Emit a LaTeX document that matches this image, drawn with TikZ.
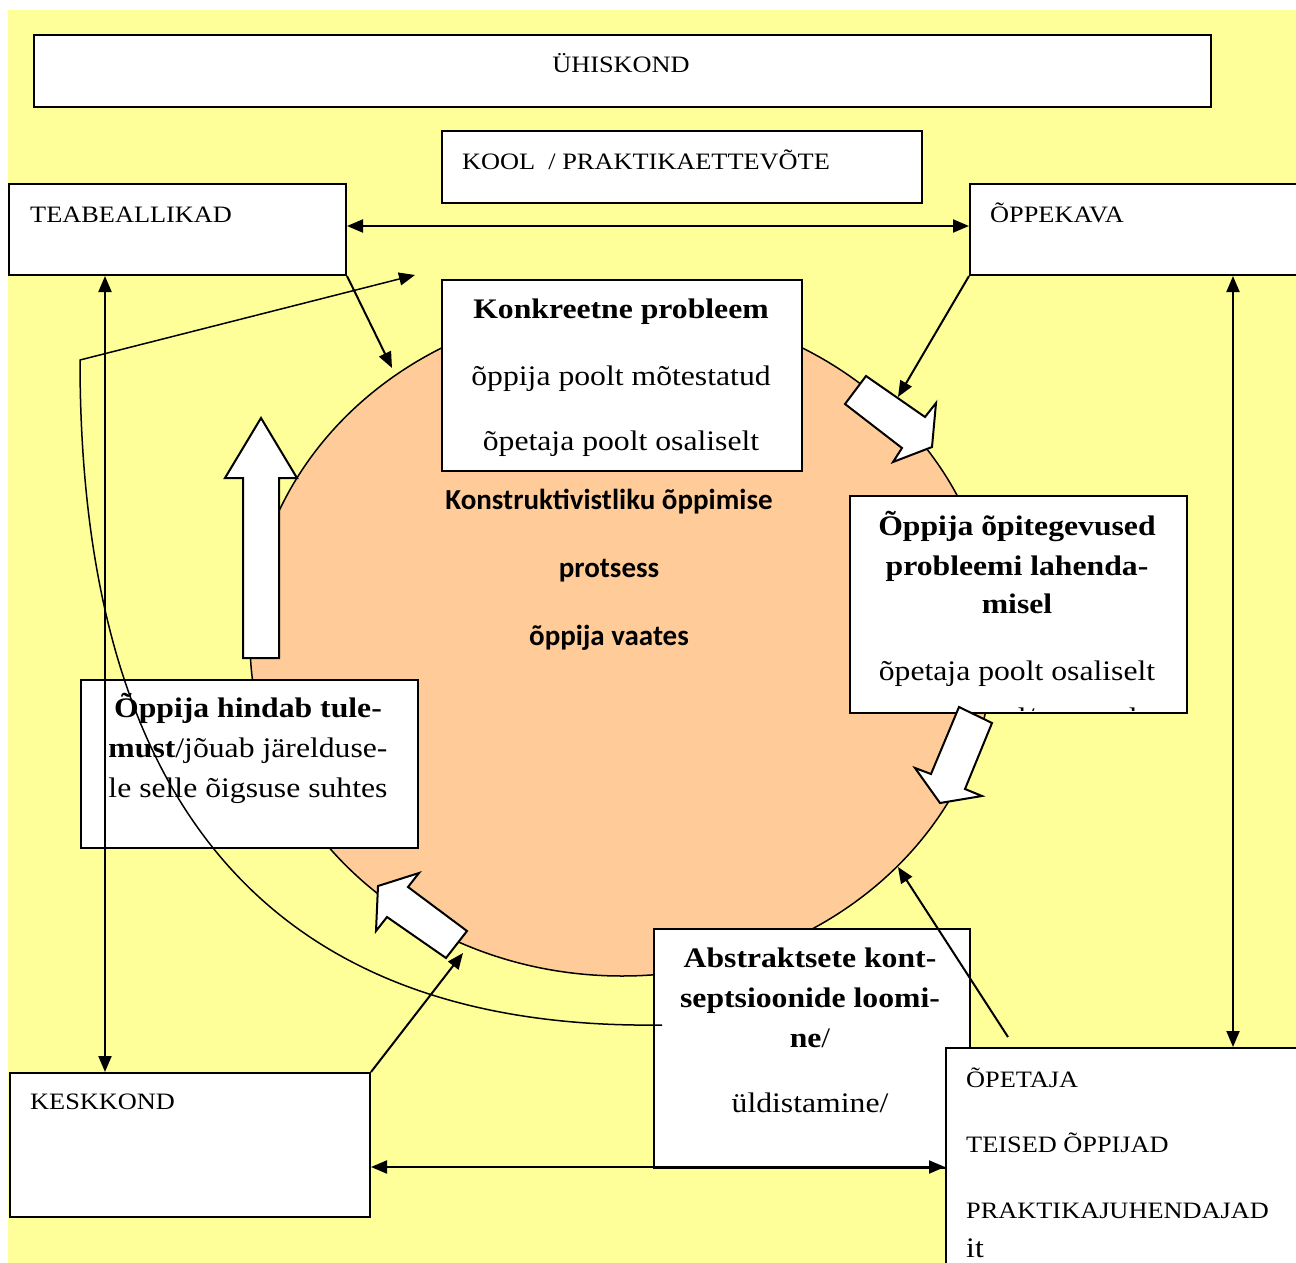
\documentclass[tikz,border=0pt]{standalone}
\usepackage{fontspec}
\setmainfont{Liberation Serif}[FakeStretch=1.12]
\newfontfamily\calib{Carlito}
\usetikzlibrary{arrows.meta,shapes.geometric}
\definecolor{yel}{RGB}{255,255,153}
\definecolor{peach}{RGB}{255,204,153}
\newcommand{\capsz}{\fontsize{23.5}{28}\selectfont}
\newcommand{\bodysz}{\fontsize{28.3}{34}\selectfont}
\newcommand{\midsz}{\fontsize{29}{34}\selectfont}
\begin{document}
\begin{tikzpicture}[x=1pt,y=-1pt,
  box/.style={draw=black, line width=2pt, fill=white, inner sep=0pt, anchor=north west},
  lbl/.style={inner sep=0pt, anchor=base west, font=\capsz},
  ctr/.style={inner sep=0pt, anchor=base, font=\bodysz},
  mid/.style={inner sep=0pt, anchor=base, font=\calib\bfseries\midsz},
  conn/.style={line width=2pt, -{Triangle[length=16pt,width=13pt]}},
  dconn/.style={line width=2pt, {Triangle[length=16pt,width=13pt]}-{Triangle[length=16pt,width=13pt]}},
  hollow/.style={draw=black, line width=2pt, fill=white, line join=miter},
]
\path[use as bounding box] (0,0) rectangle (1296,1263);
\clip (0,0) rectangle (1296,1263);
\fill[white] (0,0) rectangle (1296,1263);
\fill[yel] (8,10) rectangle (1300,1270);

% central ellipse
\node[ellipse, draw=black, line width=1.5pt, fill=peach, minimum width=744pt, minimum height=670pt, inner sep=0pt] (circ) at (622,641) {};

% boxes
\node[box, minimum width=1177pt, minimum height=72pt] (uhis) at (33,34) {};
\node[box, minimum width=480pt, minimum height=72pt] (kool) at (441,130) {};
\node[box, minimum width=337pt, minimum height=91pt] (teab) at (8,183) {};
\node[box, minimum width=345pt, minimum height=91pt] (opk) at (969,183) {};
\node[box, minimum width=360pt, minimum height=191pt] (konk) at (441,279) {};
\node[box, minimum width=337pt, minimum height=217pt] (tege) at (849,495) {};
\node[box, minimum width=337pt, minimum height=168pt] (hind) at (80,679) {};
\node[box, minimum width=316pt, minimum height=239pt] (abst) at (653,928) {};
\node[box, minimum width=360pt, minimum height=144pt] (kesk) at (9,1072) {};
\node[box, minimum width=365pt, minimum height=240pt] (opet) at (945,1047) {};

% texts
\node[lbl, anchor=base] (tuhis) at (621,73) {ÜHISKOND};
\node[lbl] (tkool) at (462,169) {KOOL\ \ / PRAKTIKAETTEVÕTE};
\node[lbl] (tteab) at (30,222) {TEABEALLIKAD};
\node[lbl] (topk) at (990,222) {ÕPPEKAVA};
\node[lbl] (tkesk) at (30,1109) {KESKKOND};
\node[lbl] (topet1) at (966,1087) {ÕPETAJA};
\node[lbl] (topet2) at (966,1152) {TEISED ÕPPIJAD};
\node[lbl] (topet3) at (966,1218) {PRAKTIKAJUHENDAJAD};
\node[lbl, font=\bodysz] (topet4) at (966,1257) {it};

\node[ctr, font=\bodysz\bfseries] (tkonk1) at (621,318) {Konkreetne probleem};
\node[ctr] (tkonk2) at (621,385) {õppija poolt mõtestatud};
\node[ctr] (tkonk3) at (621,450) {õpetaja poolt osaliselt};

\node[mid] (tmid1) at (609,509) {Konstruktivistliku õppimise};
\node[mid] (tmid2) at (609,577) {protsess};
\node[mid] (tmid3) at (609,645) {õppija vaates};

\node[ctr, font=\bodysz\bfseries] (ttege1) at (1017,535) {Õppija õpitegevused};
\node[ctr, font=\bodysz\bfseries] (ttege2) at (1017,575) {probleemi lahenda-};
\node[ctr, font=\bodysz\bfseries] (ttege3) at (1017,613) {misel};
\node[ctr] (ttege4) at (1017,680) {õpetaja poolt osaliselt};
\begin{scope}
\clip (851,497) rectangle (1184,710);
\node[ctr] (ttege5) at (1024,727) {suunatud/toetatud};
\end{scope}

\node[ctr] (thind1) at (248,717) {\textbf{Õppija hindab tule-}};
\node[ctr] (thind2) at (248,757) {\textbf{must}/jõuab järelduse-};
\node[ctr] (thind3) at (248,797) {le selle õigsuse suhtes};

\node[ctr, font=\bodysz\bfseries] (tabst1) at (810,967) {Abstraktsete kont-};
\node[ctr, font=\bodysz\bfseries] (tabst2) at (810,1007) {septsioonide loomi-};
\node[ctr] (tabst3) at (810,1047) {\textbf{ne}/};
\node[ctr] (tabst4) at (810,1112) {üldistamine/};

% hollow block arrows
\draw[hollow] (243,658) -- (243,478) -- (225,478) -- (261,418) -- (297,478) -- (279,478) -- (279,658) -- cycle;
\draw[hollow] (866,376) -- (925,417) -- (936,403) -- (932,447) -- (893,462) -- (902,448) -- (845,404) -- cycle;
\draw[hollow] (959,707) -- (992,723) -- (965,789) -- (982,796) -- (940,803) -- (915,768) -- (931,774) -- cycle;
\draw[hollow] (467,931) -- (446,958) -- (387,917) -- (376,931) -- (378,886) -- (419,873) -- (408,887) -- cycle;

% connectors
\coordinate (ht) at (0,226);
\coordinate (hb) at (0,1167);
\coordinate (vl) at (105,0);
\coordinate (vr) at (1233,0);
\draw[dconn] (teab.east |- ht) -- (opk.west |- ht);
\draw[dconn] (teab.south -| vl) -- (kesk.north -| vl);
\draw[dconn] (opk.south -| vr) -- (opet.north -| vr);
\draw[dconn] (kesk.east |- hb) -- (opet.west |- hb);

\coordinate (e1) at (392,368);
\coordinate (e2) at (898,397);
\coordinate (e3) at (463,953);
\coordinate (e4s) at (1008,1037);
\coordinate (e4) at (898,867);
\draw[conn] (teab.south east) -- (e1);
\draw[conn] (opk.south west) -- (e2);
\draw[conn] (kesk.north east) -- (e3);
\draw[conn] (e4s) -- (e4);

\coordinate (cs) at (662,1025);
\coordinate (ck) at (80,360);
\coordinate (ct) at (415,275);
\draw[line width=1.5pt, line join=round, -{Triangle[length=16pt,width=13pt]}]
  (cs) .. controls (302,1030) and (80,840) .. (ck) -- (ct);
\end{tikzpicture}
\end{document}
